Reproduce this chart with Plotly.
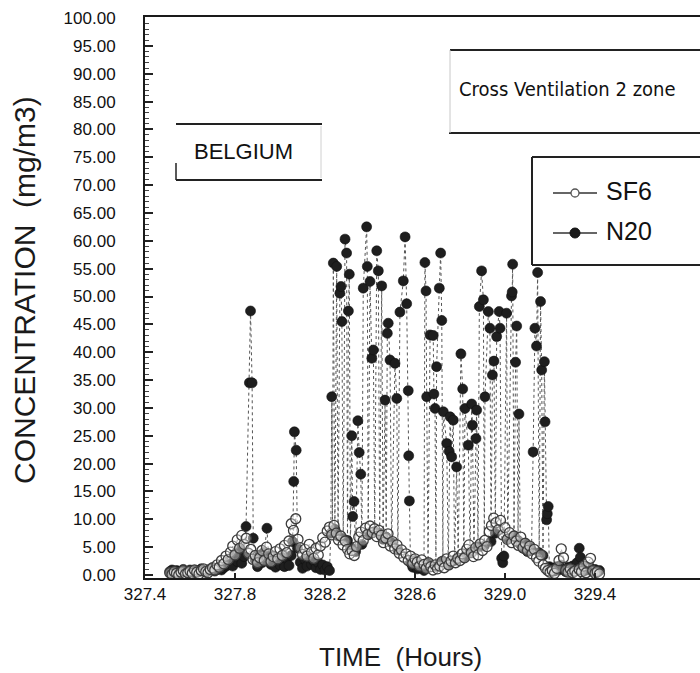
import plotly.graph_objects as go

# Tracer-gas concentrations, (hour, mg/m3) pairs in sampling order
N2O_READINGS = [
    (327.51, 0.6), (327.52, 0.9), (327.53, 0.5), (327.54, 0.8), (327.55, 0.4),
    (327.56, 0.7), (327.57, 1.0), (327.58, 0.6), (327.59, 0.5), (327.60, 0.9),
    (327.61, 0.7), (327.62, 0.4), (327.63, 0.8), (327.64, 0.6), (327.65, 1.1),
    (327.66, 0.7), (327.67, 0.5), (327.68, 0.9), (327.69, 0.8), (327.70, 1.2),
    (327.71, 0.7), (327.72, 1.0), (327.73, 1.4), (327.74, 0.9), (327.75, 1.3),
    (327.76, 1.6), (327.77, 1.8), (327.78, 2.9), (327.79, 1.6), (327.80, 3.8),
    (327.81, 2.4), (327.82, 4.6), (327.83, 2.1), (327.84, 3.3), (327.849, 8.7),
    (327.864, 34.5), (327.869, 47.4), (327.876, 34.5), (327.881, 6.6), (327.89, 2.7),
    (327.90, 1.5), (327.91, 3.6), (327.92, 2.2), (327.93, 4.1), (327.942, 8.4),
    (327.95, 2.8), (327.96, 1.9), (327.97, 3.4), (327.98, 1.4), (327.99, 2.6),
    (328.00, 1.8), (328.01, 3.2), (328.02, 1.5), (328.03, 2.9), (328.04, 1.7),
    (328.05, 3.5), (328.056, 6.0), (328.061, 16.8), (328.064, 25.7), (328.072, 22.4),
    (328.078, 4.8), (328.09, 2.3), (328.10, 1.2), (328.11, 2.8), (328.12, 1.6),
    (328.13, 3.1), (328.14, 1.9), (328.15, 2.5), (328.16, 1.3), (328.17, 2.2),
    (328.18, 1.0), (328.19, 1.8), (328.20, 0.9), (328.21, 1.5), (328.22, 0.8),
    (328.226, 7.5), (328.230, 32.0), (328.233, 7.8), (328.237, 56.0), (328.244, 8.2),
    (328.252, 55.4), (328.258, 7.0), (328.266, 50.6), (328.271, 51.8), (328.275, 45.5),
    (328.281, 6.5), (328.289, 60.3), (328.296, 57.8), (328.300, 6.2), (328.304, 47.4),
    (328.308, 54.0), (328.313, 5.0), (328.319, 25.0), (328.323, 10.5), (328.329, 13.2),
    (328.336, 4.2), (328.346, 27.7), (328.352, 22.0), (328.359, 18.1), (328.364, 5.5),
    (328.370, 51.5), (328.385, 62.5), (328.388, 55.4), (328.392, 7.2), (328.400, 52.7),
    (328.408, 38.9), (328.415, 40.4), (328.421, 7.8), (328.430, 58.2), (328.437, 54.6),
    (328.443, 7.5), (328.452, 51.9), (328.458, 6.4), (328.467, 31.4), (328.472, 6.8),
    (328.477, 43.4), (328.481, 45.2), (328.489, 38.6), (328.496, 5.8), (328.511, 38.0),
    (328.519, 31.7), (328.524, 4.5), (328.533, 47.2), (328.548, 52.8), (328.556, 60.7),
    (328.563, 48.7), (328.570, 33.1), (328.572, 21.4), (328.575, 13.3), (328.58, 2.2),
    (328.59, 1.4), (328.60, 2.6), (328.61, 1.1), (328.62, 1.9), (328.63, 1.2),
    (328.640, 0.8), (328.644, 56.1), (328.649, 51.0), (328.652, 32.0), (328.658, 2.0),
    (328.667, 43.1), (328.681, 43.0), (328.684, 32.5), (328.689, 29.9), (328.693, 1.5),
    (328.696, 37.4), (328.708, 51.5), (328.714, 57.8), (328.719, 45.7), (328.724, 2.5),
    (328.726, 29.3), (328.741, 23.6), (328.748, 1.8), (328.752, 22.2), (328.756, 28.4),
    (328.763, 21.2), (328.770, 27.8), (328.776, 2.6), (328.785, 19.4), (328.792, 3.0),
    (328.804, 39.7), (328.812, 33.4), (328.817, 3.2), (328.822, 29.9), (328.837, 23.3),
    (328.845, 4.0), (328.852, 30.7), (328.855, 26.9), (328.862, 4.4), (328.871, 24.5),
    (328.874, 29.6), (328.880, 5.0), (328.886, 48.2), (328.896, 54.6), (328.904, 49.4),
    (328.908, 5.2), (328.911, 32.0), (328.926, 47.3), (328.933, 44.3), (328.938, 6.0),
    (328.944, 35.9), (328.951, 38.4), (328.957, 7.5), (328.963, 42.8), (328.974, 47.3),
    (328.978, 44.3), (328.985, 3.0), (328.990, 2.2), (328.995, 3.4), (329.007, 47.0),
    (329.012, 6.5), (329.029, 50.1), (329.032, 50.8), (329.034, 55.8), (329.040, 7.0),
    (329.047, 38.2), (329.052, 44.7), (329.058, 6.2), (329.062, 28.9), (329.068, 5.5),
    (329.080, 4.8), (329.090, 5.6), (329.100, 4.2), (329.110, 5.0), (329.118, 4.5),
    (329.125, 22.1), (329.133, 44.3), (329.140, 41.1), (329.145, 54.3), (329.152, 4.0),
    (329.158, 49.1), (329.163, 36.8), (329.169, 3.5), (329.175, 38.3), (329.178, 27.5),
    (329.185, 9.9), (329.188, 11.0), (329.192, 12.3), (329.197, 1.5), (329.21, 1.2),
    (329.22, 0.7), (329.23, 1.5), (329.24, 0.9), (329.25, 1.8), (329.26, 1.1),
    (329.27, 0.6), (329.28, 1.4), (329.29, 0.8), (329.30, 1.6), (329.31, 1.0),
    (329.32, 2.2), (329.33, 4.8), (329.335, 3.2), (329.34, 1.3), (329.35, 0.7),
    (329.36, 1.5), (329.37, 0.9), (329.38, 1.2), (329.39, 0.6), (329.40, 1.0),
    (329.41, 0.5), (329.42, 0.8),
]

SF6_READINGS = [
    (327.51, 0.4), (327.52, 0.1), (327.53, 0.6), (327.54, 0.3), (327.55, 0.0),
    (327.56, 0.5), (327.57, 0.8), (327.58, 0.2), (327.59, 0.4), (327.60, 0.7),
    (327.61, 0.3), (327.62, 0.9), (327.63, 0.5), (327.64, 0.2), (327.65, 0.8),
    (327.66, 1.1), (327.67, 0.6), (327.68, 0.4), (327.69, 1.0), (327.70, 1.3),
    (327.71, 0.9), (327.72, 1.8), (327.73, 1.4), (327.74, 2.6), (327.75, 2.0),
    (327.76, 3.4), (327.77, 2.8), (327.78, 4.1), (327.79, 5.2), (327.80, 3.6),
    (327.81, 6.3), (327.82, 4.8), (327.83, 7.1), (327.84, 5.5), (327.85, 6.6),
    (327.86, 3.9), (327.87, 4.6), (327.88, 2.8), (327.89, 3.5), (327.90, 2.2),
    (327.91, 3.1), (327.92, 4.4), (327.93, 2.6), (327.94, 5.0), (327.95, 3.8),
    (327.96, 2.4), (327.97, 3.3), (327.98, 4.2), (327.99, 2.9), (328.00, 4.7),
    (328.01, 3.5), (328.02, 5.3), (328.03, 4.0), (328.04, 6.1), (328.05, 9.2),
    (328.06, 8.0), (328.07, 10.1), (328.08, 6.4), (328.09, 4.9), (328.10, 3.7),
    (328.11, 4.6), (328.12, 3.4), (328.13, 5.5), (328.14, 4.1), (328.15, 3.0),
    (328.16, 4.8), (328.17, 3.6), (328.18, 5.2), (328.19, 6.7), (328.20, 5.9),
    (328.21, 7.9), (328.22, 8.6), (328.23, 7.2), (328.24, 8.9), (328.25, 7.5),
    (328.26, 6.3), (328.27, 7.0), (328.28, 5.4), (328.29, 6.1), (328.30, 4.6),
    (328.31, 3.8), (328.32, 4.4), (328.33, 3.5), (328.34, 5.1), (328.35, 6.8),
    (328.36, 7.7), (328.37, 6.2), (328.38, 8.4), (328.39, 7.3), (328.40, 8.8),
    (328.41, 7.6), (328.42, 8.3), (328.43, 6.9), (328.44, 8.0), (328.45, 7.1),
    (328.46, 5.8), (328.47, 6.6), (328.48, 7.4), (328.49, 5.2), (328.50, 6.0),
    (328.51, 4.7), (328.52, 5.4), (328.53, 3.9), (328.54, 4.5), (328.55, 3.2),
    (328.56, 3.8), (328.57, 2.6), (328.58, 3.4), (328.59, 2.1), (328.60, 2.9),
    (328.61, 2.3), (328.62, 1.6), (328.63, 2.7), (328.64, 1.9), (328.65, 1.2),
    (328.66, 2.2), (328.67, 1.5), (328.68, 0.9), (328.69, 1.8), (328.70, 1.1),
    (328.71, 1.6), (328.72, 2.4), (328.73, 1.3), (328.74, 2.9), (328.75, 1.8),
    (328.76, 2.5), (328.77, 3.4), (328.78, 2.2), (328.79, 3.0), (328.80, 2.6),
    (328.81, 3.8), (328.82, 3.1), (328.83, 4.6), (328.84, 5.4), (328.85, 4.0),
    (328.86, 3.3), (328.87, 4.9), (328.88, 3.6), (328.89, 5.6), (328.90, 4.4),
    (328.91, 6.2), (328.92, 5.1), (328.93, 7.8), (328.94, 8.9), (328.95, 10.2),
    (328.96, 9.4), (328.97, 8.1), (328.98, 9.8), (328.99, 7.2), (329.00, 8.5),
    (329.01, 6.4), (329.02, 7.6), (329.03, 5.8), (329.04, 7.0), (329.05, 6.1),
    (329.06, 5.3), (329.07, 6.8), (329.08, 4.9), (329.09, 5.7), (329.10, 4.4),
    (329.11, 5.2), (329.12, 3.8), (329.13, 4.6), (329.14, 3.1), (329.15, 2.5),
    (329.16, 3.6), (329.17, 1.8), (329.18, 1.2), (329.19, 0.8), (329.20, 0.5),
    (329.21, 0.8), (329.22, 0.3), (329.23, 1.2), (329.24, 2.6), (329.25, 4.7),
    (329.26, 3.1), (329.27, 0.9), (329.28, 0.5), (329.29, 1.1), (329.30, 0.4),
    (329.31, 0.7), (329.32, 0.2), (329.33, 1.0), (329.34, 0.6), (329.35, 1.6),
    (329.36, 0.4), (329.37, 2.3), (329.38, 3.0), (329.39, 0.8), (329.40, 0.3),
    (329.41, 0.6), (329.42, 0.2),
]

TIME_TICKS = [327.4, 327.8, 328.2, 328.6, 329.0, 329.4]

n2o_t = [t for t, _ in N2O_READINGS]
n2o_c = [c for _, c in N2O_READINGS]
sf6_t = [t for t, _ in SF6_READINGS]
sf6_c = [c for _, c in SF6_READINGS]

W, H = 700, 673
L, R, T, B = 145, 0, 17, 95
PLOT_W = W - L - R
PLOT_H = H - T - B


def px(x):
    """Page pixel column -> paper fraction."""
    return (x - L) / PLOT_W


def py(y):
    """Page pixel row -> paper fraction."""
    return (H - B - y) / PLOT_H


FONT = "Liberation Sans, Arial, Helvetica, sans-serif"
NARROW = "Liberation Sans Narrow, Arial Narrow, DejaVu Sans Condensed, sans-serif"

fig = go.Figure()

fig.add_trace(go.Scatter(
    x=n2o_t, y=n2o_c, name="N20", mode="lines+markers",
    line=dict(color="#555555", width=1, dash="dot"),
    marker=dict(symbol="circle", size=10, color="#1e1e1e",
                line=dict(color="#111111", width=0.6)),
))
fig.add_trace(go.Scatter(
    x=sf6_t, y=sf6_c, name="SF6", mode="lines+markers",
    line=dict(color="#7a7a7a", width=1, dash="dot"),
    marker=dict(symbol="circle", size=10, color="rgba(255,255,255,0.4)",
                line=dict(color="#3c3c3c", width=1.3)),
))

shapes = []


def seg(x0, y0, x1, y1, color="#222222", width=2):
    shapes.append(dict(type="line", xref="paper", yref="paper",
                       x0=px(x0), y0=py(y0), x1=px(x1), y1=py(y1),
                       line=dict(color=color, width=width)))


# "Cross Ventilation 2 zone" frame
seg(450, 50, 700, 50)
seg(449, 133, 700, 133)
seg(450, 50, 450, 133, color="#c8c8c8", width=1)
# "BELGIUM" frame
seg(176, 124, 322, 124)
seg(176, 180, 322, 180)
seg(176, 163, 176, 180, width=1.5)
seg(321, 126, 321, 178, color="#d0d0d0", width=1)
# legend frame
seg(532, 157, 700, 157)
seg(532, 157, 532, 265)
seg(532, 265, 700, 265)
# legend samples
seg(553, 193, 597, 193, color="#333333", width=1.5)
seg(553, 233, 597, 233, color="#333333", width=1.5)
shapes.append(dict(type="circle", xref="paper", yref="paper",
                   xsizemode="pixel", ysizemode="pixel",
                   xanchor=px(575), yanchor=py(193),
                   x0=-4, x1=4, y0=-4, y1=4,
                   line=dict(color="#555555", width=1.3), fillcolor="white"))
shapes.append(dict(type="circle", xref="paper", yref="paper",
                   xsizemode="pixel", ysizemode="pixel",
                   xanchor=px(575), yanchor=py(233),
                   x0=-5, x1=5, y0=-5, y1=5,
                   line=dict(color="#111111", width=1), fillcolor="#1a1a1a"))

annotations = [
    dict(text="CONCENTRATION\u00a0\u00a0(mg/m3)", x=px(25), y=py(290),
         textangle=-90, font=dict(family=FONT, size=30, color="#1a1a1a")),
    dict(text="TIME\u00a0\u00a0(Hours)", x=px(400), y=py(657),
         font=dict(family=FONT, size=26, color="#1a1a1a")),
    dict(text="Cross Ventilation 2 zone", x=px(567), y=py(89),
         font=dict(family=NARROW, size=20, color="#111111")),
    dict(text="BELGIUM", x=px(243), y=py(152),
         font=dict(family=FONT, size=22, color="#111111")),
    dict(text="SF6", x=px(604), y=py(191), xanchor="left",
         font=dict(family=FONT, size=25, color="#111111")),
    dict(text="N20", x=px(604), y=py(231), xanchor="left",
         font=dict(family=FONT, size=25, color="#111111")),
]
for a in annotations:
    a.update(xref="paper", yref="paper", showarrow=False)
    a.setdefault("xanchor", "center")
    a.setdefault("yanchor", "middle")

fig.update_layout(
    width=W, height=H,
    margin=dict(l=L, r=R, t=T, b=B, pad=0),
    paper_bgcolor="white", plot_bgcolor="white",
    showlegend=False,
    shapes=shapes,
    annotations=annotations,
    font=dict(family=FONT, color="#111111"),
)

fig.update_xaxes(
    range=[327.4, 327.4 + PLOT_W / 225.0],
    tickvals=TIME_TICKS, tickformat=".1f",
    ticks="inside", ticklen=5, tickwidth=1.5, tickcolor="#222222",
    showline=True, linewidth=2, linecolor="#1a1a1a", mirror=True,
    showgrid=False, zeroline=False,
    tickfont=dict(family=FONT, size=17, color="#111111"),
)
fig.update_yaxes(
    range=[-0.54, 100.18],
    tick0=0, dtick=5, tickformat=".2f",
    ticks="inside", ticklen=8, tickwidth=1.5, tickcolor="#222222",
    minor=dict(dtick=1, ticks="inside", ticklen=4, tickwidth=1, tickcolor="#444444"),
    showline=True, linewidth=2, linecolor="#1a1a1a", mirror=False,
    showgrid=False, zeroline=False,
    ticklabelstandoff=24,
    tickfont=dict(family=FONT, size=17, color="#111111"),
)

fig.write_html("out.html")
